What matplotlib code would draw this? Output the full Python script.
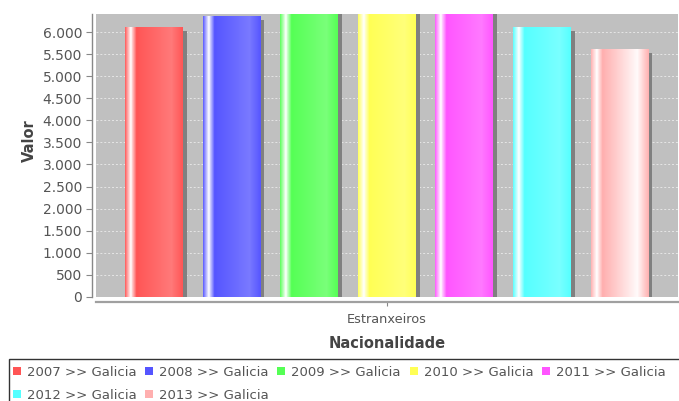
import numpy as np
import matplotlib
matplotlib.use("Agg")
import matplotlib.pyplot as plt
from matplotlib.patches import Rectangle
from matplotlib.transforms import ScaledTranslation, Bbox, TransformedBbox

# ---- data ----
series = ["2007 >> Galicia", "2008 >> Galicia", "2009 >> Galicia", "2010 >> Galicia",
          "2011 >> Galicia", "2012 >> Galicia", "2013 >> Galicia"]
values = [6113, 6360, 6800, 6900, 6750, 6120, 5620]
category = ["Estranxeiros"]
colors = ["#FF5555", "#5555FF", "#55FF55", "#FFFF55", "#FF55FF", "#55FFFF", "#FFAFAF"]
yticks = list(range(0, 6001, 500))

W, H = 679, 401
fig = plt.figure(figsize=(W / 100, H / 100), dpi=100)
fig.patch.set_facecolor("white")
ax = fig.add_axes([96 / W, (H - 296.7) / H, 582 / W, (296.7 - 14) / H])
ax.set_facecolor("#C0C0C0")


def brighter(rgb):
    out = []
    for c in rgb:
        if 0 < c < 3:
            c = 3
        out.append(min(c / 0.7, 255.0))
    return np.array(out)


def gradient(rgb_hex, n=240):
    c0 = np.array(matplotlib.colors.to_rgb(rgb_hex)) * 255
    c1 = brighter(c0)
    white = np.array([255.0, 255.0, 255.0])
    t = (np.arange(n) + 0.5) / n
    arr = np.zeros((n, 3))
    for k, tt in enumerate(t):
        if tt < 0.1:
            f = tt / 0.1
            arr[k] = c0 + (white - c0) * f
        elif tt < 0.2:
            f = (tt - 0.1) / 0.1
            arr[k] = white + (c0 - white) * f
        elif tt < 0.8:
            f = (tt - 0.2) / 0.6
            arr[k] = c0 + (c1 - c0) * f
        else:
            f = (tt - 0.8) / 0.2
            arr[k] = c1 + (c0 - c1) * f
    return (arr / 255.0)[None, :, :]


bw = 0.747
xpos = np.arange(len(values))
shadow_tr = ax.transData + ScaledTranslation(4 / 100, -4 / 100, fig.dpi_scale_trans)
for i, (v, c) in enumerate(zip(values, colors)):
    ax.bar(xpos[i], v, width=bw, color="#808080", zorder=2, transform=shadow_tr, linewidth=0)
    bars = ax.bar(xpos[i], v, width=bw, color=c, zorder=3, linewidth=0)
    r = bars[0]
    x0, w, h = r.get_x(), r.get_width(), r.get_height()
    ax.imshow(gradient(c), extent=[x0, x0 + w, 0, h], aspect="auto",
              interpolation="nearest", zorder=3.5)

ax.set_xlim(-0.746, 6.754)
ax.set_ylim(0, 6415)

# grid
ax.set_axisbelow(True)
ax.yaxis.grid(True, color="#E6E6E6", linestyle=(0, (2, 2)), linewidth=0.7)
ax.xaxis.grid(False)

# spines
for s in ["top", "right"]:
    ax.spines[s].set_visible(False)
ax.spines["left"].set_position(("outward", 3))
ax.spines["left"].set_color("#888888")
ax.spines["left"].set_linewidth(1.0)
ax.spines["bottom"].set_position(("outward", 4))
ax.spines["bottom"].set_color("#A0A0A0")
ax.spines["bottom"].set_linewidth(1.6)

ax.set_yticks(yticks)
ax.set_yticklabels([f"{t:,}".replace(",", ".") for t in yticks])
ax.tick_params(axis="y", length=4, width=0.8, color="#888888", labelsize=10,
               labelcolor="#555555", pad=3)
ax.set_xticks([3])
ax.set_xticklabels(category)
ax.tick_params(axis="x", length=3, width=0.8, color="#888888", labelsize=9.3,
               labelcolor="#555555", pad=5)

# partially hidden top tick label
t = ax.text(-0.0, 6500, "6.500", transform=ax.get_yaxis_transform(), ha="right",
            va="center", fontsize=10, color="#555555", clip_on=True)
t.set_transform(ax.get_yaxis_transform() + ScaledTranslation(-13 / 100, 0, fig.dpi_scale_trans))
t.set_clip_box(TransformedBbox(Bbox([[0, 0], [W, H - 13.5]]), matplotlib.transforms.IdentityTransform()))

# axis titles
fig.text(387 / W, 1 - 343 / H, "Nacionalidade", ha="center", va="center",
         fontsize=10.5, fontweight="bold", color="#444444")
fig.text(29 / W, 1 - 141 / H, "Valor", ha="center", va="center", rotation=90,
         fontsize=10.5, fontweight="bold", color="#444444")

# legend
fig.patches.append(Rectangle((8.5 / W, -0.1), 2.0, (H - 359) / H + 0.1, fill=False,
                             edgecolor="#333333", linewidth=1.0, transform=fig.transFigure))
for i, (lab, c) in enumerate(zip(series, colors)):
    row, col = divmod(i, 5)
    x = 12.7 + col * 132.3
    yc = 371 + row * 23.3
    fig.patches.append(Rectangle((x / W, (H - yc - 4) / H), 8 / W, 8 / H, facecolor=c,
                                 edgecolor="none", transform=fig.transFigure))
    fig.text((x + 14) / W, (H - yc) / H, lab, ha="left", va="center_baseline",
             fontsize=9.5, color="#555555")

fig.savefig("out.png", dpi=100)
